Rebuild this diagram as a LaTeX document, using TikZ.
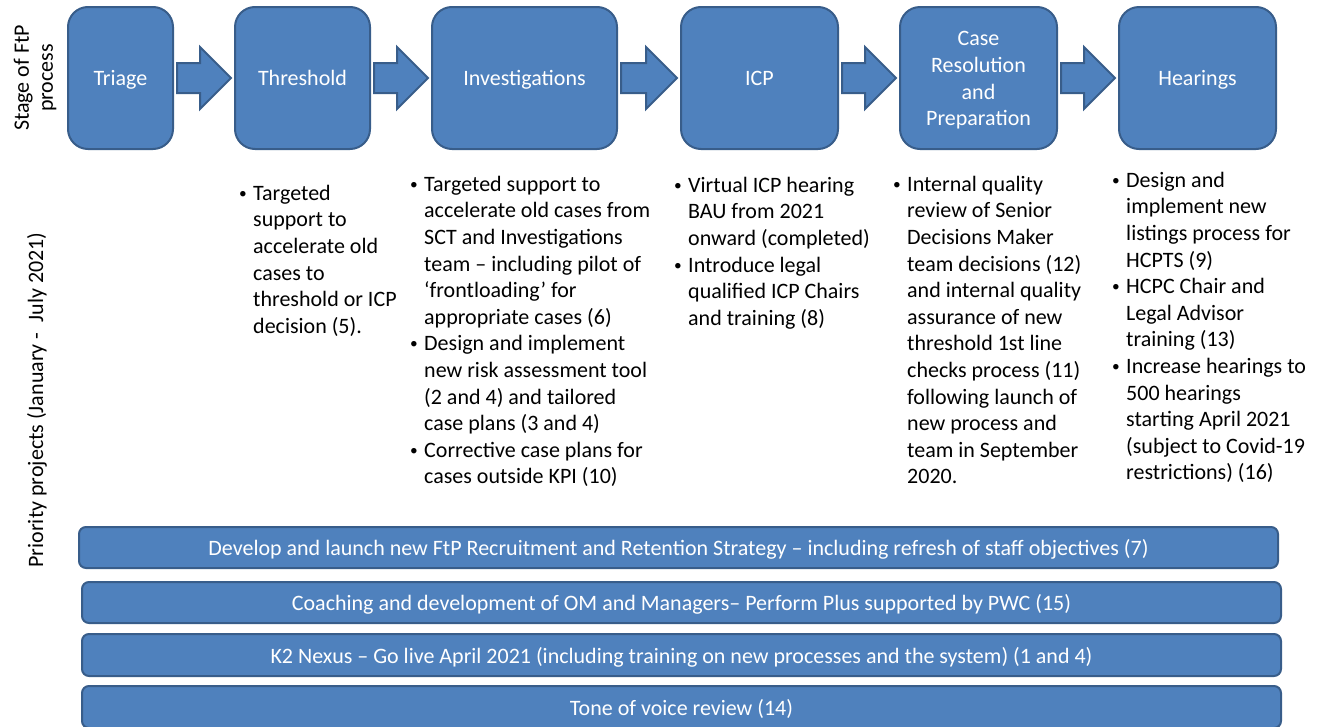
\documentclass[tikz,border=0pt]{standalone}
\usepackage{fontspec}
\usepackage{graphicx}
\setmainfont{Carlito}
\usetikzlibrary{calc}
\definecolor{boxfill}{HTML}{4F81BD}
\definecolor{boxline}{HTML}{385D8A}
% bullet and continuation indent for the project lists
\newcommand\bulitem{\makebox[15pt][l]{\hspace{1pt}\raisebox{2pt}{\scalebox{0.7}{\textbullet}}}}
\newcommand\contline{\hspace*{15pt}}
% stage label, centred on its rows
\newcommand\stagetext[1]{\raisebox{0pt}[\dimexpr\height+5pt\relax][\depth]{\begin{tabular}{@{}c@{}}#1\end{tabular}}}
\begin{document}
\begin{tikzpicture}[x=1pt,y=-1pt,
  txt/.style={font=\fontsize{22}{26.6}\selectfont},
  stage/.style={txt, draw=boxline, fill=boxfill, line width=2pt,
    rounded corners=20pt, text=white, align=center, inner sep=0pt,
    minimum height=142pt},
  bar/.style={txt, draw=boxline, fill=boxfill, line width=2pt,
    rounded corners=7pt, text=white, inner sep=0pt, minimum width=1199pt,
    text height=20pt, text depth=4pt},
  blockarrow/.style={draw=boxline, fill=boxfill, line width=2pt, line join=miter},
  plist/.style={txt, anchor=north west, inner sep=0pt},
  sidelabel/.style={font=\fontsize{22}{24}\selectfont, rotate=90, align=center, inner sep=0pt}
]
\useasboundingbox (0,0) rectangle (1317,726);

% side labels
\node[sidelabel] (lstage) at (35,78) {Stage of FtP\\process};
\node[sidelabel] (lprio) at (37,400) {Priority projects (January -\ \ July 2021)};

% stages of the process
\node[stage, minimum width=105pt] (tri) at (120.5,78) {\stagetext{Triage}};
\node[stage, minimum width=135pt] (thr) at (302.5,78) {\stagetext{Threshold}};
\node[stage, minimum width=185pt] (inv) at (524.5,78) {\stagetext{Investigations}};
\node[stage, minimum width=157pt] (icp) at (759.5,78) {\stagetext{ICP}};
\node[stage, minimum width=157pt] (crp) at (978.5,78) {\stagetext{Case\\Resolution\\and\\Preparation}};
\node[stage, minimum width=157pt] (hea) at (1197.5,78) {\stagetext{Hearings}};

% block arrows between stages
\foreach \a/\b in {tri/thr, thr/inv, inv/icp, icp/crp, crp/hea}{
  \draw[blockarrow]
    ($(\a.east)+(3,-15)$) -- ($(\b.west)+(-34,-15)$) -- ($(\b.west)+(-34,-31)$)
    -- ($(\b.west)+(-3,0)$) -- ($(\b.west)+(-34,31)$) -- ($(\b.west)+(-34,15)$)
    -- ($(\a.east)+(3,15)$) -- cycle;
}

% priority projects per stage
\node[plist] (pthr) at (238,181.4) {\begin{tabular}{@{}l@{}}
\bulitem Targeted\\
\contline support to\\
\contline accelerate old\\
\contline cases to\\
\contline threshold or ICP\\
\contline decision (5).
\end{tabular}};

\node[plist] (pinv) at (409,172.4) {\begin{tabular}{@{}l@{}}
\bulitem Targeted support to\\
\contline accelerate old cases from\\
\contline SCT and Investigations\\
\contline team – including pilot of\\
\contline ‘frontloading’ for\\
\contline appropriate cases (6)\\
\bulitem Design and implement\\
\contline new risk assessment tool\\
\contline (2 and 4) and tailored\\
\contline case plans (3 and 4)\\
\bulitem Corrective case plans for\\
\contline cases outside KPI (10)
\end{tabular}};

\node[plist] (picp) at (673,173.4) {\begin{tabular}{@{}l@{}}
\bulitem Virtual ICP hearing\\
\contline BAU from 2021\\
\contline onward (completed)\\
\bulitem Introduce legal\\
\contline qualified ICP Chairs\\
\contline and training (8)
\end{tabular}};

\node[plist] (pcrp) at (892,172.4) {\begin{tabular}{@{}l@{}}
\bulitem Internal quality\\
\contline review of Senior\\
\contline Decisions Maker\\
\contline team decisions (12)\\
\contline and internal quality\\
\contline assurance of new\\
\contline threshold 1st line\\
\contline checks process (11)\\
\contline following launch of\\
\contline new process and\\
\contline team in September\\
\contline 2020.
\end{tabular}};

\node[plist] (phea) at (1111,168.4) {\begin{tabular}{@{}l@{}}
\bulitem Design and\\
\contline implement new\\
\contline listings process for\\
\contline HCPTS (9)\\
\bulitem HCPC Chair and\\
\contline Legal Advisor\\
\contline training (13)\\
\bulitem Increase hearings to\\
\contline 500 hearings\\
\contline starting April 2021\\
\contline (subject to Covid-19\\
\contline restrictions) (16)
\end{tabular}};

% cross-cutting projects
\node[bar, minimum height=41pt] (b1) at (678.5,547.5) {Develop and launch new FtP Recruitment and Retention Strategy – including refresh of staff objectives (7)};
\node[bar, minimum height=41pt] (b2) at (681.5,602.5) {Coaching and development of OM and Managers– Perform Plus supported by PWC (15)};
\node[bar, minimum height=42pt] (b3) at (681.5,655) {K2 Nexus – Go live April 2021 (including training on new processes and the system) (1 and 4)};
\node[bar, minimum height=42pt] (b4) at (681.5,707) {Tone of voice review (14)};
\end{tikzpicture}
\end{document}
